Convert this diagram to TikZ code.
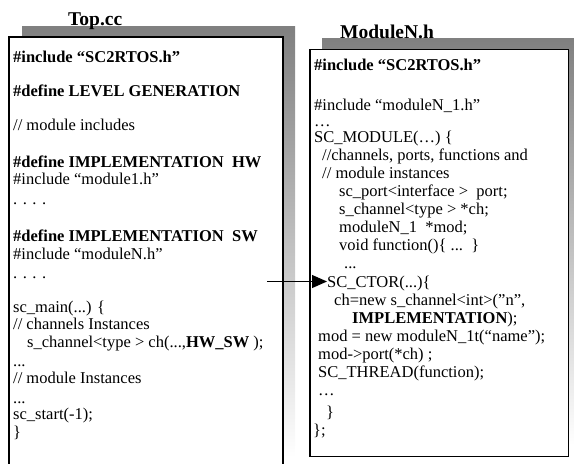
\documentclass[tikz,border=0pt]{standalone}
\usepackage{fontspec}
\setmainfont{Liberation Serif}
\usetikzlibrary{arrows.meta}
\definecolor{shade}{gray}{0.5}
\tikzset{
  code/.style={anchor=base west, inner sep=0pt, font=\fontsize{16.5}{18}\selectfont},
  title/.style={anchor=base west, inner sep=0pt, font=\fontsize{19.5}{22}\selectfont\bfseries},
  frame/.style={draw, line width=1.5pt, fill=white},
}
\begin{document}
\begin{tikzpicture}[x=1pt,y=-1pt]
\useasboundingbox (0,0) rectangle (574,464);
% Top.cc
\fill[shade] (22,26) rectangle (295,457);
\draw[frame] (9,37) rectangle (283,470);
\node[title] (top) at (68,25) {Top.cc};
\foreach \x/\y/\t [count=\i] in {
  13/62/{\bfseries\#include “SC2RTOS.h”},
  13/96/{\bfseries\#define LEVEL GENERATION},
  13/130/{// module includes},
  13/167/{\bfseries\#define IMPLEMENTATION\ \ HW},
  13/184/{\#include “module1.h”},
  13/204/{. . . .},
  13/241/{\bfseries\#define IMPLEMENTATION\ \ SW},
  13/259/{\#include “moduleN.h”},
  13/278/{. . . .},
  13/312/{sc\_main(...) \{},
  13/329/{// channels Instances},
  27/347/{s\_channel<type > ch(...,\textbf{HW\_SW} );},
  13/366/{...},
  13/383/{// module Instances},
  13/403/{...},
  13/419/{sc\_start(-1);},
  13/437/{\}}}
  \node[code] (l\i) at (\x,\y) {\t};
% ModuleN.h
\fill[shade] (322,38) rectangle (581,445);
\draw[frame] (310,49.5) rectangle (568.5,456.5);
\node[title] (modn) at (340,38) {ModuleN.h};
\foreach \x/\y/\t [count=\i] in {
  314/70/{\bfseries\#include “SC2RTOS.h”},
  314/110/{\#include “moduleN\_1.h”},
  314/126/{…},
  314/142/{SC\_MODULE(…) \{},
  322/160/{//channels, ports, functions and},
  322/178/{// module instances},
  339/196/{sc\_port<interface >\ \ port;},
  339/214/{s\_channel<type > *ch;},
  339/232/{moduleN\_1\ \ *mod;},
  339/250/{void function()\{ ...\ \ \}},
  344/268/{...},
  327/287/{SC\_CTOR(...)\{},
  334/305/{ch=new s\_channel<int>(”n”,},
  352/323/{\textbf{IMPLEMENTATION});},
  318/341/{mod = new moduleN\_1t(“name”);},
  318/359/{mod->port(*ch) ;},
  318/377/{SC\_THREAD(function);},
  318/395/{…},
  326/417/{\}},
  313/435/{\};}}
  \node[code] (r\i) at (\x,\y) {\t};
\coordinate (from) at (267,281.5);
\draw[-{Triangle[length=15pt,width=13pt]}, line width=1pt] (from) -- (from -| r12.west);
\end{tikzpicture}
\end{document}
